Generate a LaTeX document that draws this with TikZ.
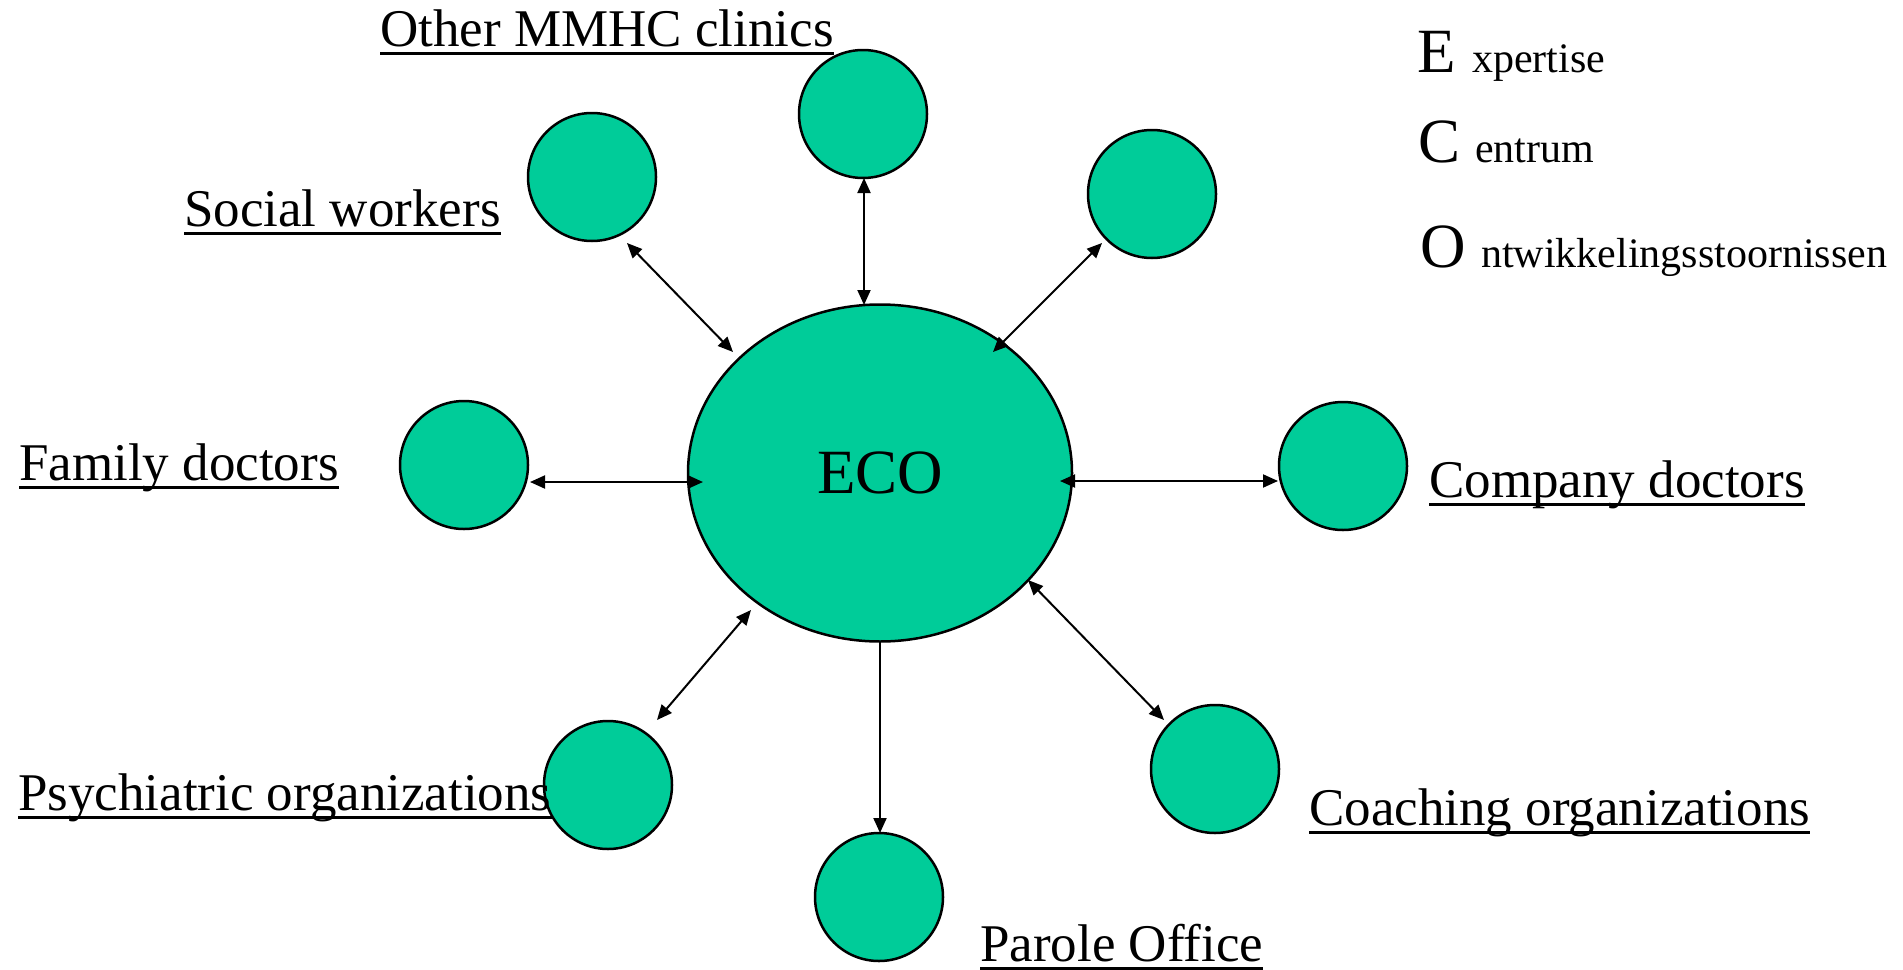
\documentclass[tikz,border=0pt]{standalone}
\usepackage{fontspec}
\setmainfont{Liberation Serif}
\usetikzlibrary{shapes.geometric,arrows.meta,calc}
\definecolor{ecogreen}{RGB}{0,204,153}
\tikzset{
  bubble/.style={circle,draw=black,line width=2.5pt,fill=ecogreen,minimum size=128pt,inner sep=0pt},
  center/.style={ellipse,draw=black,line width=2.5pt,fill=ecogreen,minimum width=384pt,minimum height=337pt,inner sep=0pt,font=\fontsize{63}{70}\selectfont},
  lbl/.style={anchor=base west,inner sep=0pt,font=\fontsize{53}{60}\selectfont},
  big/.style={anchor=base west,inner sep=0pt,font=\fontsize{63}{70}\selectfont},
  small/.style={anchor=base west,inner sep=0pt,font=\fontsize{42}{48}\selectfont},
  ul/.style={line width=3pt},
  biarr/.style={line width=2pt,{Triangle[length=15pt,width=13pt]}-{Triangle[length=15pt,width=13pt]}},
  onearr/.style={line width=2pt,-{Triangle[length=15pt,width=13pt]}}
}
\newcommand{\ulbl}[1]{\draw[ul] ([yshift=-7pt]#1.base west) -- ([yshift=-7pt]#1.base east);}
\begin{document}
\begin{tikzpicture}[x=1pt,y=-1pt]
\useasboundingbox (0,0) rectangle (1903,969);
% nodes
\node[center] (eco) at (880,473) {ECO};
\node[bubble] (top) at (863,114) {};
\node[bubble] (soc) at (592,177) {};
\node[bubble] (tr) at (1152,194) {};
\node[bubble] (fam) at (464,465) {};
\node[bubble] (comp) at (1343,466) {};
\node[bubble] (psy) at (608,785) {};
\node[bubble] (par) at (879,897) {};
\node[bubble] (coach) at (1215,769) {};
% connectors
\draw[biarr] ($(top)+(1,64)$) -- ($(eco)+(-16,-168)$);
\draw[biarr] ($(soc)+(35,66)$) -- ($(eco)+(-147,-121)$);
\draw[biarr] ($(tr)+(-50,49)$) -- ($(eco)+(113,-121)$);
\draw[biarr] ($(fam)+(66,17)$) -- ($(eco)+(-177,9)$);
\draw[biarr] ($(eco)+(180,8)$) -- ($(comp)+(-65,15)$);
\draw[biarr] ($(psy)+(49,-65)$) -- ($(eco)+(-129,137)$);
\draw[biarr] ($(eco)+(148,107)$) -- ($(coach)+(-51,-49)$);
\draw[onearr] ($(eco)+(0,168)$) -- ($(par)+(1,-64)$);
% labels
\node[lbl] (lother) at (380,46) {Other MMHC clinics}; \ulbl{lother}
\node[lbl] (lsoc) at (184,226) {Social workers}; \ulbl{lsoc}
\node[lbl] (lfam) at (19,480) {Family doctors}; \ulbl{lfam}
\node[lbl] (lcomp) at (1429,497) {Company doctors}; \ulbl{lcomp}
\node[lbl] (lpsy) at (18,810) {Psychiatric organizations}; \ulbl{lpsy}
\node[lbl] (lpar) at (980,961) {Parole Office}; \ulbl{lpar}
\node[lbl] (lcoach) at (1309,825) {Coaching organizations}; \ulbl{lcoach}
% legend
\node[big] (le) at (1417,72) {E};
\node[small] (lxp) at (1472,72) {xpertise};
\node[big] (lc) at (1418,162) {C};
\node[small] (len) at (1475,162) {entrum};
\node[big] (lo) at (1420,267) {O};
\node[small] (lnt) at (1481,267) {ntwikkelingsstoornissen};
\end{tikzpicture}
\end{document}
